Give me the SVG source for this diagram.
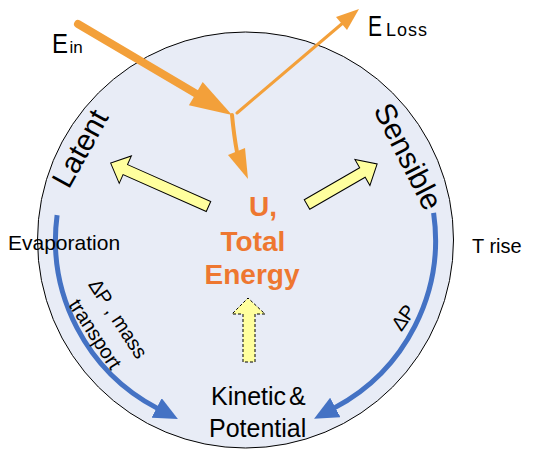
<svg xmlns="http://www.w3.org/2000/svg" width="544" height="464" viewBox="0 0 544 464">
<style>
.t{font-family:"Liberation Sans",Arial,sans-serif;fill:#000}
.o{font-family:"Liberation Sans",Arial,sans-serif;fill:#EE7730;font-weight:bold;font-size:28px;text-anchor:middle}
.yl{fill:#FFFF9E;stroke:#000;stroke-width:1}
.bl{fill:none;stroke:#4472C4;stroke-width:5}
.or{fill:none;stroke:#F3A03A;stroke-linecap:round}
.oh{fill:#F3A03A}
</style>
<defs>
<marker id="bh" markerUnits="userSpaceOnUse" markerWidth="24" markerHeight="22" viewBox="0 0 24 22" refX="1" refY="11" orient="auto">
<path d="M0,0 L24,11 L0,22 z" fill="#4472C4"/>
</marker>
</defs>
<rect width="544" height="464" fill="#fff"/>
<g id="system">
<circle cx="245.5" cy="240" r="208" fill="#E8ECF6" stroke="#000" stroke-width="1"/>
</g>
<g id="connectors">
<path class="or" d="M78,24 L196,93.6" stroke-width="8"/>
<polygon class="oh" points="188.9,105.2 202.7,82 232,115"/>
<path class="or" d="M237,113 L344,22" stroke-width="3" stroke-linecap="butt"/>
<polygon class="oh" points="336,17 359,9 347,30"/>
<path class="or" d="M232,115 Q234,136 237,152" stroke-width="4" stroke-linecap="butt"/>
<polygon class="oh" points="228,155 245,148 248,179"/>
<path class="bl" d="M57.1,215.2 A190,190 0 0 0 157.5,408.4" marker-end="url(#bh)"/>
<path class="bl" d="M433.6,212.9 A190,190 0 0 1 334.4,407.9" marker-end="url(#bh)"/>
<polygon class="yl" transform="translate(208.5,206.5) rotate(203.9)" points="0,-5.5 91,-5.5 91,-15 107,0 91,15 91,5.5 0,5.5"/>
<polygon class="yl" transform="translate(307,204.5) rotate(-30)" points="0,-5.5 64,-5.5 64,-15 81,0 64,15 64,5.5 0,5.5"/>
<polygon class="yl" stroke-dasharray="3,2" points="243,362 243,314 232,314 248,298 265,314 255,314 255,362"/>
</g>
<g id="ein"><text class="t" font-size="28" x="52" y="53" textLength="16" lengthAdjust="spacingAndGlyphs">E</text><text class="t" font-size="17" x="69.5" y="53">in</text></g>
<g id="eloss"><text class="t" font-size="30" x="368" y="36" textLength="14" lengthAdjust="spacingAndGlyphs">E</text><text class="t" font-size="18" x="386" y="36" letter-spacing="1">Loss</text></g>
<g id="latent"><text class="t" font-size="30" text-anchor="middle" transform="translate(89,153.5) rotate(-61)">Latent</text></g>
<g id="sensible"><text class="t" font-size="30" text-anchor="middle" transform="translate(399,161) rotate(63)">Sensible</text></g>
<g id="total"><text class="o" x="263" y="216">U,</text><text class="o" x="253" y="251">Total</text><text class="o" x="252" y="284">Energy</text></g>
<g id="kinetic"><text class="t" font-size="25" x="211" y="405">Kinetic<tspan dx="3">&amp;</tspan></text><text class="t" font-size="25" x="209" y="437">Potential</text></g>
<g id="evap"><text class="t" font-size="21" x="8" y="250">Evaporation</text></g>
<g id="trise"><text class="t" font-size="20" x="472" y="253">T rise</text></g>
<g id="dpleft"><text class="t" font-size="20" text-anchor="middle" transform="translate(112.5,322.5) rotate(57)">∆P , mass</text><text class="t" font-size="20" text-anchor="middle" transform="translate(89.5,337.8) rotate(57)">transport</text></g>
<g id="dpright"><text class="t" font-size="20" text-anchor="middle" transform="translate(409,321.4) rotate(-55)">∆P</text></g>
</svg>
